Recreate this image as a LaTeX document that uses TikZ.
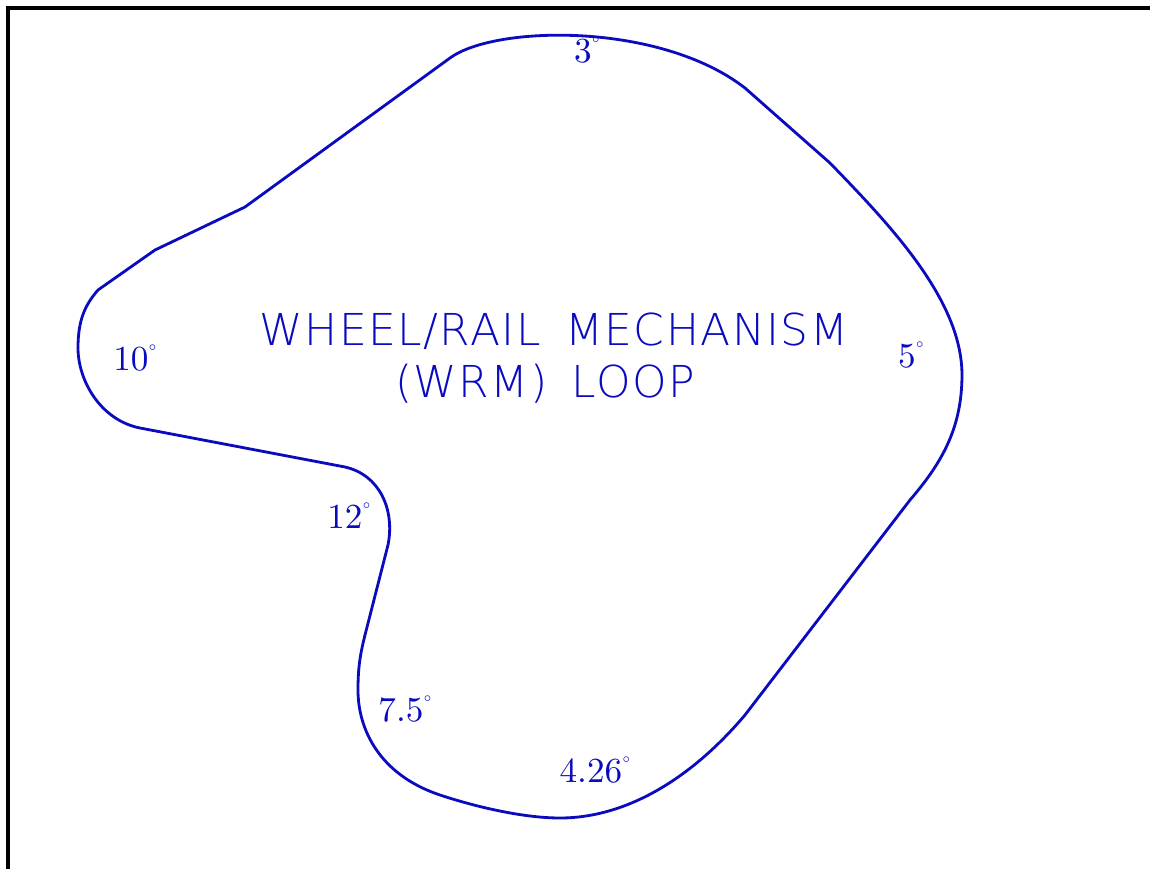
\documentclass[tikz,border=0pt]{standalone}
\usepackage{fontspec}
\newfontfamily\cadfont[LetterSpace=3.3,WordSpace=1.6]{DejaVu Sans ExtraLight}
\usepackage{tikz}
\usetikzlibrary{calc}
\definecolor{loopblue}{RGB}{10,10,190}
\newcommand{\dg}{^{\raisebox{0.45ex}{\scalebox{0.65}{$\scriptscriptstyle\circ$}}}}

\begin{document}
\begin{tikzpicture}[x=0.01cm,y=-0.01cm]
  \tikzset{
    frame/.style={draw=black,line width=1.15pt},
    loopline/.style={draw=loopblue,line width=0.8pt,line join=round},
    angle/.style={text=loopblue,font=\fontsize{10}{12}\selectfont,inner sep=0pt,anchor=base},
    title/.style={text=loopblue,font=\cadfont\fontsize{12.5}{15}\selectfont,inner sep=0pt,anchor=base},
  }
  \useasboundingbox (0,0) rectangle (1150,869);

  % frame
  \coordinate (fbl) at (8,869);
  \coordinate (ftl) at (8,8);
  \coordinate (ftr) at (1150,8);
  \draw[frame] (fbl) -- (ftl) -- (ftr);

  % the loop, clockwise from the upper left
  \draw[loopline] (98,290) -- (155,250) -- (245,207) -- (450,58)
    .. controls (495,25) and (660,22) .. (745,88) -- (830,163)
    .. controls (890,225) and (962,300) .. (962,375)
    .. controls (962,430) and (940,465) .. (910,500) -- (745,715)
    .. controls (690,780) and (625,818) .. (560,818)
    .. controls (520,818) and (470,805) .. (440,795)
    .. controls (380,775) and (358,730) .. (358,690)
    .. controls (358,668) and (360,655) .. (365,635) -- (388,545)
    .. controls (395,510) and (380,475) .. (345,467) -- (140,428)
    .. controls (100,420) and (78,380) .. (78,348)
    .. controls (78,320) and (85,305) .. cycle;

  \node[title] (t1) at (554,345) {WHEEL/RAIL MECHANISM};
  \node[title] (t2) at (545,397) {(WRM) LOOP};

  \node[angle] (a3)  at (588,62)  {$3\dg$};
  \node[angle] (a10) at (136,370) {$10\dg$};
  \node[angle] (a12) at (350,528) {$12\dg$};
  \node[angle] (a75) at (406,721) {$7.5\dg$};
  \node[angle] (a426) at (596,782) {$4.26\dg$};
  \node[angle] (a5)  at (912,367) {$5\dg$};
\end{tikzpicture}
\end{document}
